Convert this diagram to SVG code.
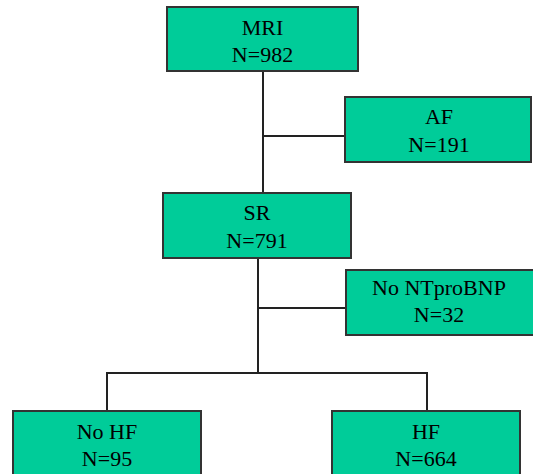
<svg xmlns="http://www.w3.org/2000/svg" width="533" height="474" viewBox="0 0 533 474">
<style>
.box{fill:#00CC99;stroke:#333333;stroke-width:2}
.lbl{font-family:"Liberation Serif","Times New Roman",serif;font-size:22px;fill:#000;text-anchor:middle}
.con{stroke:#222222;stroke-width:2;fill:none}
</style>
<rect width="533" height="474" fill="#ffffff"/>
<g id="connectors">
<line class="con" x1="263" y1="71" x2="263" y2="193"/>
<line class="con" x1="263" y1="136" x2="345" y2="136"/>
<line class="con" x1="258" y1="258" x2="258" y2="373"/>
<line class="con" x1="258" y1="308" x2="346" y2="308"/>
<polyline class="con" points="107,411 107,373 427,373 427,411"/>
</g>
<g id="mri">
<rect class="box" x="167" y="7" width="191" height="64"/>
<text class="lbl" x="262.5" y="35">MRI</text>
<text class="lbl" x="262.5" y="62">N=982</text>
</g>
<g id="af">
<rect class="box" x="345" y="97" width="186" height="65"/>
<text class="lbl" x="439" y="124">AF</text>
<text class="lbl" x="439" y="152">N=191</text>
</g>
<g id="sr">
<rect class="box" x="163" y="193" width="188" height="65"/>
<text class="lbl" x="257" y="220">SR</text>
<text class="lbl" x="257" y="248">N=791</text>
</g>
<g id="no-ntprobnp">
<rect class="box" x="346" y="270" width="190" height="65"/>
<text class="lbl" x="439" y="295">No NTproBNP</text>
<text class="lbl" x="439" y="322">N=32</text>
</g>
<g id="no-hf">
<rect class="box" x="13" y="411" width="188" height="70"/>
<text class="lbl" x="107" y="439">No HF</text>
<text class="lbl" x="107" y="466">N=95</text>
</g>
<g id="hf">
<rect class="box" x="332" y="411" width="188" height="70"/>
<text class="lbl" x="426" y="439">HF</text>
<text class="lbl" x="426" y="466">N=664</text>
</g>
</svg>
